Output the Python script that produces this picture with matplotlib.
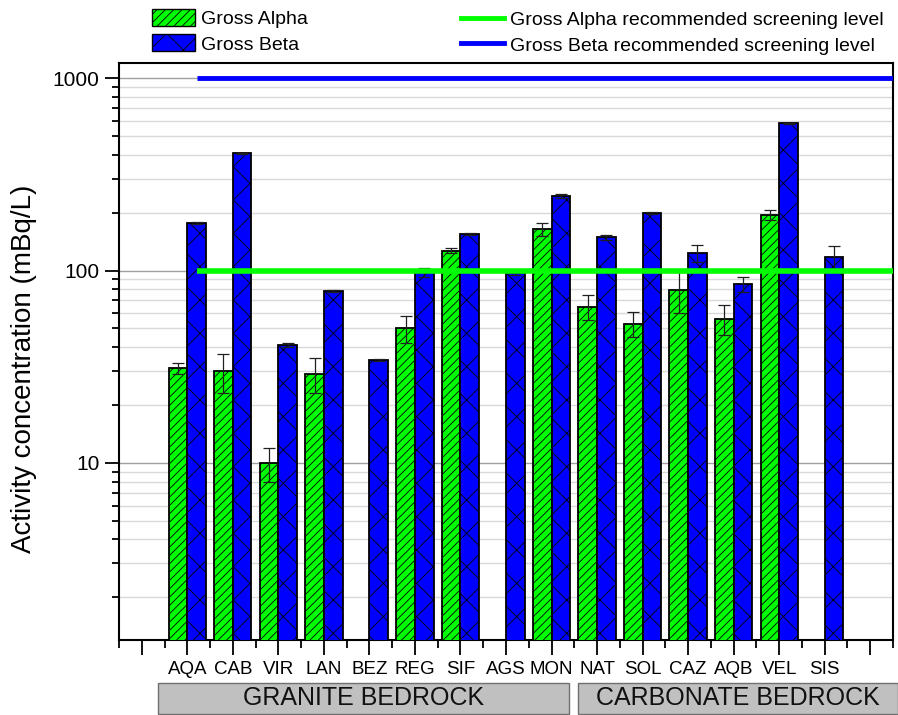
import numpy as np
import matplotlib
matplotlib.use("Agg")
import matplotlib.pyplot as plt
from matplotlib.patches import Patch, Rectangle
from matplotlib.lines import Line2D
from matplotlib.ticker import FixedLocator, LogLocator, NullFormatter
from matplotlib.transforms import blended_transform_factory

plt.rcParams['font.family'] = ['Liberation Sans', 'DejaVu Sans']
plt.rcParams['hatch.linewidth'] = 0.6

# Sampling sites (granite bedrock first, then carbonate bedrock)
sites = ['AQA', 'CAB', 'VIR', 'LAN', 'BEZ', 'REG', 'SIF', 'AGS',
         'MON', 'NAT', 'SOL', 'CAZ', 'AQB', 'VEL', 'SIS']

# Gross alpha / gross beta activity (mBq/L) with uncertainties
alpha = [31, 30, 10, 29, np.nan, 50, 127, np.nan, 164, 65, 53, 79, 56, 195, np.nan]
alpha_err = [2, 7, 2, 6, 0, 8, 4, 0, 12, 10, 8, 19, 10, 11, 0]
beta = [176, 407, 41, 78.5, 34.3, 98, 155, 97, 244, 149, 199, 123, 85, 584, 118]
beta_err = [2, 3, 1, 1, 0.5, 5, 2, 2, 6, 4, 3, 12, 8, 4, 16]

# Recommended screening levels (mBq/L)
alpha_level = 100
beta_level = 1000

# Bedrock groups: label, first site, last site
groups = [('GRANITE BEDROCK', 'AQA', 'MON'),
          ('CARBONATE BEDROCK', 'NAT', 'SIS')]

green = '#00ff00'
blue = '#0000ff'

fig = plt.figure(figsize=(8.98, 7.15), dpi=100)
ax = fig.add_axes([119 / 898, 75 / 715, 774 / 898, 577 / 715])
ax.set_yscale('log')

x = np.arange(1, len(sites) + 1)
w = 0.41

ax.bar(x - w / 2, alpha, w, color=green, edgecolor='black', linewidth=1.3,
       hatch='////', zorder=3)
ax.bar(x + w / 2, beta, w, color=blue, edgecolor='black', linewidth=1.3,
       hatch='x', zorder=3)

a = np.array(alpha, dtype=float)
ok = ~np.isnan(a)
ax.errorbar((x - w / 2)[ok], a[ok], yerr=np.array(alpha_err)[ok], fmt='none',
            ecolor='#202020', elinewidth=0.9, capsize=4.5, capthick=0.9, zorder=4)
ax.errorbar(x + w / 2, beta, yerr=beta_err, fmt='none',
            ecolor='#202020', elinewidth=0.9, capsize=4.5, capthick=0.9, zorder=4)

# screening levels start at the first beta bar
ax.hlines(alpha_level, x[0] + w / 2, 16.6, color=green, linewidth=4, zorder=5)
ax.hlines(beta_level, x[0] + w / 2, 16.6, color=blue, linewidth=3.5, zorder=5)

ax.set_xlim(-0.5, 16.5)
ax.set_ylim(1.2, 1200)

ax.set_xticks(np.arange(0, 17))
ax.set_xticklabels([''] + sites + [''], fontsize=13.5)
ax.xaxis.set_minor_locator(FixedLocator(np.arange(-0.5, 17, 1)))
ax.tick_params(axis='x', which='major', length=11, width=1.3, pad=4)
ax.tick_params(axis='x', which='minor', length=6, width=1.3)

ax.set_yticks([10, 100, 1000])
ax.set_yticklabels(['10', '100', '1000'], fontsize=15)
ax.yaxis.set_minor_locator(LogLocator(base=10, subs=np.arange(2, 10)))
ax.yaxis.set_minor_formatter(NullFormatter())
ax.tick_params(axis='y', which='major', length=10, width=1.3, pad=4)
ax.tick_params(axis='y', which='minor', length=5, width=1.3)

ax.yaxis.grid(True, which='major', color='#a0a0a0', linewidth=1.0, zorder=0)
ax.yaxis.grid(True, which='minor', color='#d9d9d9', linewidth=1.0, zorder=0)
ax.set_axisbelow(True)

for s in ax.spines.values():
    s.set_linewidth(1.5)

ax.set_ylabel('Activity concentration (mBq/L)', fontsize=20)
ax.yaxis.set_label_coords(-0.106, 0.47)

# grey boxes naming the bedrock under each group of sites
trans = blended_transform_factory(ax.transData, fig.transFigure)
box_pad = [(0.64, 0.39), (0.42, 1.6)]
for (label, first, last), (pl, pr) in zip(groups, box_pad):
    x0 = sites.index(first) + 1 - pl
    x1 = sites.index(last) + 1 + pr
    ax.add_patch(Rectangle((x0, 0.002), x1 - x0, 0.043, transform=trans,
                           facecolor='#c0c0c0', edgecolor='#707070',
                           linewidth=1.0, clip_on=False))
    ax.text((x0 + x1) / 2, 0.024, label, transform=trans, ha='center',
            va='center', fontsize=18, color='#111111')

bar_handles = [Patch(facecolor=green, edgecolor='black', hatch='////', label='Gross Alpha'),
               Patch(facecolor=blue, edgecolor='black', hatch='x', label='Gross Beta')]
line_handles = [Line2D([], [], color=green, linewidth=3.5,
                       label='Gross Alpha recommended screening level'),
                Line2D([], [], color=blue, linewidth=3.5,
                       label='Gross Beta recommended screening level')]

legend_kw = dict(loc='upper left', frameon=False, fontsize=14, handlelength=2.2,
                 handleheight=0.95, handletextpad=0.3, labelspacing=0.33,
                 borderpad=0, borderaxespad=0)
fig.legend(handles=bar_handles, bbox_to_anchor=(152 / 898, 1 - 9 / 715), **legend_kw)
fig.legend(handles=line_handles, bbox_to_anchor=(461 / 898, 1 - 10 / 715), **legend_kw)

fig.savefig('out.png', dpi=100, facecolor='white')
